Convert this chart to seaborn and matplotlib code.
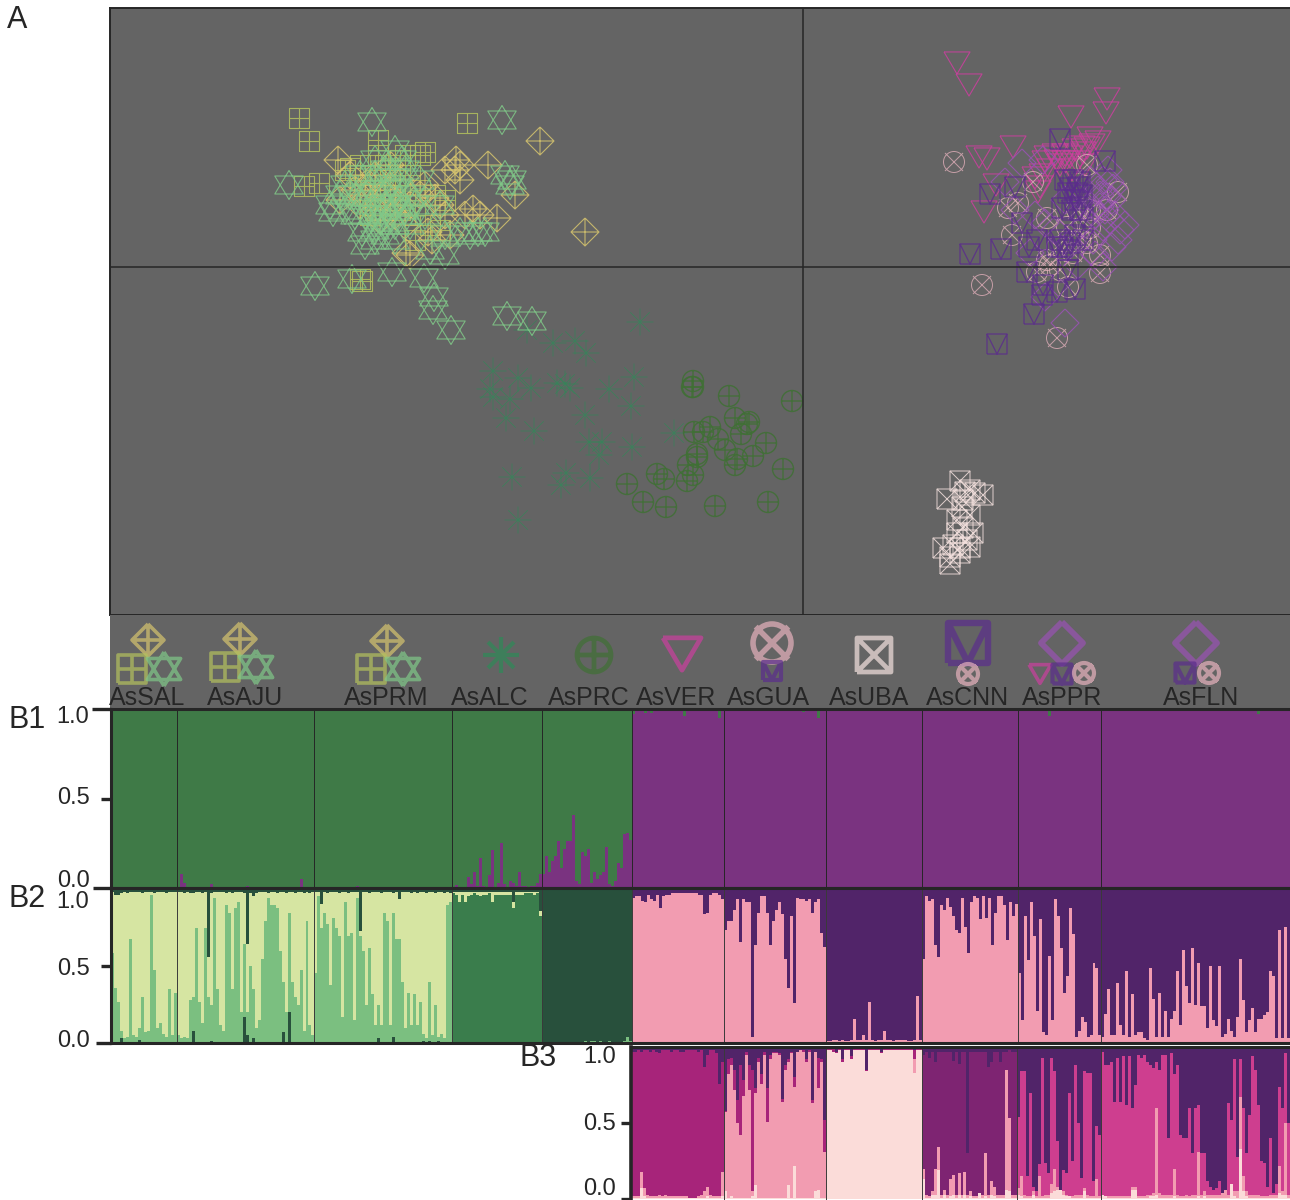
import numpy as np
import pandas as pd
import matplotlib
matplotlib.use("Agg")
import matplotlib.pyplot as plt
from matplotlib.path import Path
import seaborn as sns

# -- scatter data (component scores)
sq_plus_x = [299, 309, 467, 319, 304, 362, 360, 378, 378, 420, 425, 400, 385, 360, 350, 375, 390, 420, 400, 365, 380, 410, 435, 445, 370, 430, 415, 360, 395, 345, 405, 385, 375, 440, 390, 380, 395, 405, 385, 415, 370]
sq_plus_y = [118, 141, 123, 183, 186, 281, 279, 140, 155, 155, 152, 160, 165, 165, 168, 180, 195, 190, 210, 175, 200, 175, 195, 200, 215, 225, 240, 190, 175, 170, 155, 185, 210, 230, 170, 175, 195, 195, 210, 215, 195]
dia_plus_x = [540, 585, 338, 456, 488, 473, 497, 410, 406, 455, 445, 460, 355, 365, 340, 375, 390, 375, 420, 435, 440, 395, 360, 432, 450, 428, 515, 400, 385, 460, 465, 385, 395, 370, 350, 410, 425, 445, 405, 480, 380]
dia_plus_y = [141, 232, 160, 160, 165, 209, 218, 255, 253, 170, 170, 165, 190, 195, 200, 175, 165, 210, 195, 198, 205, 215, 205, 240, 235, 232, 195, 180, 195, 180, 215, 190, 200, 185, 175, 205, 185, 215, 225, 215, 220]
star_x = [372, 502, 289, 315, 352, 392, 424, 434, 433, 451, 507, 532, 505, 510, 512, 402, 375, 395, 333, 330, 365, 375, 395, 372, 360, 390, 380, 405, 445, 445, 460, 478, 485, 440, 360, 395, 410, 340, 385, 385, 345, 395, 420, 407, 370, 380, 430, 375, 385, 365, 400, 390, 370, 355, 410, 380, 395, 385, 362, 345, 415, 425, 375, 395, 405, 350, 470]
star_y = [122, 120, 185, 286, 279, 272, 278, 297, 310, 330, 316, 321, 175, 185, 180, 160, 160, 150, 212, 205, 245, 240, 225, 215, 200, 185, 190, 210, 235, 255, 232, 232, 232, 205, 175, 205, 195, 195, 225, 235, 185, 178, 180, 215, 190, 220, 250, 175, 205, 215, 200, 215, 205, 215, 225, 210, 190, 170, 232, 210, 205, 215, 230, 240, 170, 195, 235]
aster_x = [640, 553, 575, 586, 493, 518, 490, 493, 510, 531, 557, 565, 570, 609, 634, 631, 585, 506, 534, 674, 589, 602, 599, 632, 512, 566, 561, 590, 518, 527]
aster_y = [322, 343, 341, 353, 371, 378, 389, 397, 399, 388, 383, 384, 388, 389, 377, 406, 415, 418, 431, 433, 442, 442, 455, 447, 477, 473, 485, 478, 520, 330]
circ_plus_x = [693, 692, 693, 729, 792, 735, 749, 747, 741, 710, 703, 694, 718, 725, 766, 753, 697, 697, 688, 737, 735, 783, 657, 664, 693, 687, 627, 643, 666, 715, 768]
circ_plus_y = [381, 387, 387, 396, 401, 418, 422, 424, 434, 427, 432, 432, 439, 450, 443, 456, 454, 457, 465, 459, 465, 469, 474, 479, 475, 481, 484, 502, 507, 506, 502]
tri_x = [957, 969, 1107, 1106, 1071, 1090, 1098, 1082, 1087, 1013, 979, 987, 1045, 1065, 1077, 1057, 996, 1038, 984, 1040, 1047, 1070, 1083, 1050, 1060, 1075, 1092, 1035, 1042, 1055, 1072, 1065, 1085]
tri_y = [63, 85, 99, 113, 117, 138, 142, 147, 148, 147, 157, 159, 162, 162, 162, 161, 185, 192, 212, 187, 157, 157, 153, 170, 165, 150, 145, 178, 175, 155, 170, 155, 165]
circ_x_x = [954, 1118, 982, 1057, 1008, 1018, 1012, 1033, 1107, 1100, 1100, 1050, 1037, 1068, 1047, 1077, 1067, 1090, 1087, 1073, 1057, 1087, 1090, 1080, 1060, 1047]
circ_x_y = [162, 192, 285, 338, 208, 203, 235, 182, 210, 255, 273, 265, 272, 287, 218, 210, 227, 228, 165, 253, 247, 243, 210, 240, 270, 260]
sq_v_x = [1060, 1105, 990, 1015, 970, 1001, 1029, 1022, 1034, 997, 1027, 1042, 1057, 1075, 1068, 1073, 1078, 1070, 1080, 1062, 1068, 1083, 1057, 1070, 1083, 1062, 1043, 1037, 1077, 1065, 1075, 1072, 1060, 1075, 1068, 1082, 1080]
sq_v_y = [139, 161, 194, 187, 254, 249, 247, 223, 314, 344, 272, 295, 292, 289, 270, 180, 187, 188, 182, 208, 193, 217, 247, 243, 240, 247, 285, 240, 193, 180, 200, 210, 240, 235, 250, 195, 210]
dia_x = [1022, 1005, 1043, 1065, 1110, 1113, 1107, 1120, 1112, 1103, 1110, 1045, 1030, 1045, 1093, 1103, 1100, 1108, 1098, 1103, 1112, 1095, 1115, 1118, 1100, 1090, 1095, 1105, 1085, 1065, 1078, 1055, 1035, 1015, 1090, 1125]
dia_y = [163, 182, 160, 323, 182, 188, 197, 230, 247, 267, 220, 297, 253, 223, 240, 227, 207, 170, 190, 180, 200, 215, 215, 240, 195, 205, 255, 210, 225, 200, 265, 230, 215, 210, 180, 225]
sq_x_x = [960, 947, 965, 975, 983, 970, 963, 962, 970, 957, 963, 973, 957, 943, 953, 960, 967, 950, 960, 950, 970]
sq_x_y = [481, 499, 492, 493, 495, 490, 500, 507, 515, 520, 528, 533, 533, 548, 545, 548, 540, 564, 553, 557, 547]

# -- population labels
pop_names = ["AsSAL", "AsAJU", "AsPRM", "AsALC", "AsPRC", "AsVER", "AsGUA", "AsUBA", "AsCNN", "AsPPR", "AsFLN"]
pop_label_x = [147, 245, 386, 490, 589, 676, 769, 869, 968, 1062, 1201]

# -- B1, purple share in the green populations, green tips in the purple ones
b1_sal = [0, 0, 0, 0, 0, 0, 0, 0, 0, 0, 0, 0, 0, 0, 0, 0, 0, 0, 0, 0, 0, 0]
b1_aju = [0, 8, 3, 0, 0, 0, 0, 0, 0, 0, 0, 2, 0, 0, 0, 0, 0, 0, 0, 0, 0, 0, 0, 1, 0, 0, 0, 0, 0, 0, 0, 0, 0, 0, 0, 0, 0, 0, 0, 0, 0, 5, 0, 0, 0, 0]
b1_prm = [0, 0, 0, 0, 0, 0, 0, 0, 0, 0, 0, 0, 0, 0, 1, 0, 0, 0, 0, 0, 0, 0, 0, 0, 0, 0, 0, 0, 0, 0, 0, 0, 0, 0, 0, 0, 0, 0, 0, 0, 0, 0, 0, 0, 0, 0]
b1_alc = [0, 1.5, 0, 0, 0, 6, 2, 9, 1, 17, 1, 0, 7, 21, 0, 3, 25, 2, 0, 4, 3, 1, 9, 1, 1, 0, 1, 1, 3, 8]
b1_prc = [8, 18, 9, 15, 18, 26, 11, 22, 26, 26, 41, 4, 2, 20, 18, 22, 3, 9, 5, 7, 9, 23, 2, 1, 4, 14, 11, 30, 31, 27]
b1_tip_ver = [3, 0, 0, 0, 2, 0, 2, 0, 0, 0, 0, 0, 0, 0, 0, 0, 0, 4, 0, 0, 1, 0, 0, 0, 0, 0, 0, 0, 0, 5, 0]
b1_tip_gua = [0, 0, 0, 0, 0, 0, 0, 1, 0, 0, 0, 0, 0, 0, 0, 0, 0, 0, 0, 0, 0, 0, 0, 0, 0, 0, 1.5, 0, 0, 0, 0, 5, 0, 0]
b1_tip_uba = [0, 0, 0, 0, 0, 0, 0, 0, 0, 0, 0, 0, 0, 0, 0, 0, 0, 0, 0, 0, 0, 0, 0, 0, 0, 0, 0, 0, 0, 0, 0, 0]
b1_tip_cnn = [0, 0, 0, 0, 0, 0, 0, 0, 0, 0, 0, 0, 0, 0, 0, 0, 0, 0, 0, 0, 0, 0, 0, 0, 0, 0, 0, 0, 0, 0, 0, 0]
b1_tip_ppr = [0, 0, 0, 0, 0, 0, 0, 0, 0, 0, 4, 0, 0, 0, 0, 0, 0, 0, 0, 0, 0, 0, 0, 0, 0, 0, 0, 0]
b1_tip_fln = [0, 0, 0, 0, 0, 0, 0, 0, 0, 0, 0, 0, 0, 0, 0, 0, 0, 0, 0, 0, 0, 0, 0, 0, 0, 0, 0, 0, 0, 0, 0, 0, 0, 0, 0, 0, 0, 0, 0, 0, 0, 0, 0, 0, 1, 0, 0, 0, 1, 0, 0, 0, 3, 0, 0, 0, 0, 0, 0, 0, 0, 0, 0]

# -- B2, cumulative tops
b2_green_sal = [59, 36, 27, 8, 3, 4, 68, 5, 4, 10, 30, 7, 8, 97, 48, 10, 13, 6, 4, 35, 5, 33]
b2_green_aju = [5, 3, 4, 3, 28, 30, 75, 27, 13, 75, 30, 25, 95, 35, 12, 8, 90, 85, 35, 88, 92, 20, 65, 20, 50, 35, 10, 15, 55, 80, 95, 90, 90, 88, 60, 40, 20, 85, 40, 30, 25, 48, 8, 80, 12, 5]
b2_green_prm = [46, 96, 75, 85, 78, 38, 82, 75, 70, 17, 92, 70, 72, 15, 95, 70, 60, 25, 62, 32, 12, 25, 12, 85, 80, 12, 85, 68, 68, 40, 10, 33, 12, 32, 12, 27, 6, 3, 40, 5, 25, 4, 6, 3, 90, 92]
b2_yellow_sal = [99, 97, 97, 98, 99, 98, 99, 99, 99, 99, 98, 99, 99, 99, 98, 99, 99, 99, 98, 99, 99, 99]
b2_yellow_aju = [99, 99, 98, 99, 98, 98, 99, 99, 98, 99, 56, 98, 99, 99, 99, 99, 98, 99, 98, 99, 99, 99, 98, 65, 98, 96, 98, 99, 99, 99, 98, 99, 99, 98, 99, 99, 98, 99, 99, 98, 99, 99, 98, 99, 98, 99]
b2_yellow_prm = [99, 99, 91, 99, 98, 99, 99, 99, 98, 99, 99, 98, 99, 99, 99, 73, 99, 99, 98, 99, 99, 99, 98, 99, 99, 99, 98, 99, 94, 99, 99, 99, 98, 99, 98, 99, 99, 98, 99, 99, 98, 99, 99, 98, 99, 98]
b2_low_sal = [0, 0, 0, 3, 0, 0, 0, 0, 0, 2, 0, 0, 0, 0, 0, 0, 0, 0, 0, 0, 0, 0]
b2_low_aju = [0, 0, 0, 0, 0, 8, 0, 0, 0, 0, 0, 1, 0, 0, 0, 0, 0, 0, 0, 0, 0, 0, 17, 5, 0, 3, 0, 0, 0, 0, 0, 0, 0, 0, 0, 7, 0, 20, 0, 0, 0, 0, 0, 0, 0, 0]
b2_low_prm = [0, 0, 0, 0, 0, 0, 0, 0, 0, 0, 0, 0, 0, 0, 0, 0, 0, 0, 0, 0, 0, 3, 0, 0, 0, 0, 4, 0, 0, 0, 0, 0, 0, 0, 0, 0, 1, 0, 1, 0, 0, 1, 0, 0, 0, 0]
b2_mid_alc = [98, 97, 92, 97, 92, 96, 97, 98, 97, 96, 97, 97, 98, 92, 97, 97, 97, 97, 97, 97, 88, 97, 97, 97, 98, 98, 98, 97, 98, 83]
b2_yellow_alc = [99, 99, 99, 99, 99, 99, 99, 99, 99, 99, 99, 99, 99, 99, 99, 99, 99, 99, 99, 99, 92, 99, 99, 99, 99, 99, 99, 99, 99, 86]
b2_green_prc = [0, 0, 0, 0, 0, 0, 0, 0, 0, 0, 0, 0, 0, 0, 1, 0, 1, 1, 0, 1, 0, 0, 1, 0, 0, 0, 0, 1, 4, 1]
b2_pink_ver = [95, 96, 96, 93, 92, 97, 94, 93, 97, 88, 96, 97, 97, 98, 98, 98, 98, 98, 98, 98, 98, 98, 97, 97, 84, 85, 97, 98, 98, 97, 94]
b2_pink_gua = [74, 80, 80, 87, 94, 66, 94, 92, 92, 4, 64, 85, 96, 96, 85, 64, 80, 87, 92, 84, 55, 36, 83, 26, 95, 94, 94, 93, 94, 85, 92, 94, 72, 63]
b2_pink_uba = [1, 1, 2, 2, 1, 2, 1, 1, 2, 16, 2, 2, 5, 2, 27, 2, 1, 2, 2, 8, 2, 2, 1, 2, 2, 2, 2, 1, 1, 2, 31, 2]
b2_pink_cnn = [55, 96, 93, 94, 64, 56, 90, 87, 95, 89, 83, 74, 72, 95, 76, 59, 92, 96, 95, 81, 96, 82, 95, 64, 85, 96, 96, 90, 67, 92, 83, 91]
b2_pink_ppr = [46, 15, 83, 54, 92, 70, 21, 81, 7, 5, 57, 15, 94, 83, 62, 33, 44, 88, 71, 4, 8, 17, 14, 4, 5, 52, 49, 5]
b2_pink_fln = [4, 19, 35, 5, 5, 39, 12, 5, 47, 4, 32, 5, 7, 7, 3, 2, 49, 29, 4, 33, 4, 21, 4, 16, 21, 47, 12, 61, 37, 26, 62, 25, 52, 24, 24, 10, 50, 15, 11, 50, 4, 6, 16, 8, 4, 17, 55, 28, 7, 15, 23, 7, 16, 16, 18, 20, 47, 44, 3, 74, 3, 76, 3]

# -- B3, cumulative tops
b3_pale_ver = [1, 1, 1, 7, 2, 1, 1, 1, 1, 1, 1, 1, 1, 1, 1, 1, 1, 1, 1, 1, 1, 1, 1, 1, 1, 2, 1, 1, 1, 1, 2]
b3_pink_ver = [2, 2, 2, 18, 7, 3, 2, 2, 2, 3, 2, 3, 2, 2, 2, 2, 2, 2, 2, 1, 1, 1, 2, 3, 5, 8, 3, 2, 2, 2, 18]
b3_main_ver = [97, 97, 98, 97, 98, 98, 97, 98, 97, 96, 98, 98, 98, 97, 98, 98, 97, 97, 98, 98, 98, 98, 97, 98, 87, 95, 98, 98, 96, 76, 90]
b3_pale_gua = [5, 1, 2, 1, 1, 1, 1, 1, 1, 2, 9, 1, 1, 1, 1, 1, 1, 1, 1, 1, 1, 9, 1, 22, 1, 1, 1, 1, 1, 1, 5, 6, 1, 1]
b3_pink_gua = [57, 82, 88, 72, 50, 42, 68, 95, 72, 5, 70, 90, 76, 95, 51, 92, 96, 96, 95, 64, 85, 90, 96, 74, 97, 98, 97, 90, 97, 63, 97, 73, 90, 31]
b3_main_gua = [58, 92, 93, 85, 65, 88, 78, 97, 88, 85, 73, 93, 82, 97, 73, 95, 97, 97, 96, 66, 88, 92, 97, 80, 97, 98, 98, 92, 98, 65, 97, 93, 92, 52]
b3_pale_uba = [98, 98, 97, 96, 98, 90, 98, 98, 92, 98, 98, 98, 98, 84, 98, 98, 98, 98, 96, 98, 98, 98, 98, 98, 98, 98, 98, 98, 98, 83, 98, 98]
b3_pink_uba = [98, 98, 97, 96, 98, 90, 98, 98, 92, 98, 98, 98, 98, 84, 98, 98, 98, 98, 96, 98, 98, 98, 98, 98, 98, 98, 98, 98, 98, 92, 98, 98]
b3_main_uba = [99, 99, 99, 97, 99, 92, 99, 99, 94, 99, 99, 99, 99, 85, 99, 99, 99, 99, 97, 99, 99, 99, 99, 99, 99, 99, 99, 99, 99, 98, 99, 99]
b3_pale_cnn = [13, 1, 1, 3, 3, 19, 1, 3, 1, 2, 3, 1, 3, 1, 3, 1, 2, 1, 1, 4, 1, 2, 1, 3, 2, 1, 1, 1, 6, 5, 1, 1]
b3_pink_cnn = [20, 3, 2, 5, 20, 34, 3, 6, 3, 13, 16, 3, 17, 3, 18, 3, 5, 2, 2, 4, 3, 30, 3, 12, 8, 3, 3, 3, 85, 53, 3, 3]
b3_main_cnn = [95, 97, 93, 97, 90, 97, 97, 97, 97, 97, 91, 97, 89, 97, 97, 30, 97, 97, 97, 97, 97, 97, 87, 90, 97, 97, 90, 97, 97, 98, 97, 97]
b3_pale_ppr = [3, 2, 1, 1, 1, 3, 1, 1, 1, 1, 1, 4, 5, 6, 6, 3, 2, 2, 1, 1, 1, 1, 5, 1, 1, 1, 1, 1]
b3_pink_ppr = [7, 15, 3, 2, 2, 5, 2, 15, 2, 3, 3, 10, 20, 8, 6, 5, 3, 2, 2, 3, 3, 3, 7, 3, 2, 2, 13, 2]
b3_main_ppr = [54, 84, 84, 15, 70, 8, 5, 23, 93, 24, 17, 93, 84, 38, 6, 19, 17, 70, 25, 88, 50, 14, 84, 83, 83, 12, 48, 42]
b3_pale_fln = [3, 2, 1, 1, 1, 1, 1, 1, 1, 1, 6, 6, 1, 1, 1, 1, 2, 2, 3, 1, 1, 1, 1, 1, 2, 1, 1, 1, 1, 1, 1, 1, 2, 1, 2, 1, 1, 1, 1, 1, 1, 1, 1, 10, 2, 1, 33, 5, 2, 1, 1, 1, 1, 1, 1, 1, 1, 1, 1, 4, 3, 3, 1]
b3_pink_fln = [3, 2, 2, 2, 2, 2, 2, 2, 2, 2, 8, 8, 2, 2, 2, 3, 3, 4, 60, 4, 3, 3, 3, 3, 20, 3, 2, 2, 3, 2, 3, 3, 31, 3, 5, 3, 3, 3, 3, 3, 4, 6, 3, 10, 5, 5, 67, 15, 5, 3, 3, 3, 3, 2, 2, 2, 3, 3, 3, 22, 5, 50, 3]
b3_main_fln = [97, 88, 88, 90, 64, 93, 64, 94, 62, 94, 60, 75, 95, 93, 95, 90, 88, 86, 90, 85, 95, 95, 40, 96, 82, 88, 42, 40, 40, 60, 30, 60, 62, 30, 30, 12, 8, 6, 7, 12, 4, 4, 63, 52, 92, 28, 92, 60, 30, 55, 94, 85, 62, 25, 24, 8, 40, 4, 10, 74, 60, 96, 50]

# -- colours
PANEL = "#646464"
INK = "#262626"
C_DIA = "#d6c46e"
C_SQ = "#b4c25e"
C_STAR = "#80c888"
C_ASTER = "#2f8a58"
C_CIRC = "#3f7034"
C_TRI = "#cc3f9f"
C_CIRCX = "#e6b2bd"
C_SQX = "#f5e2df"
C_SQV = "#5b2d8c"
C_DIAP = "#9a52b4"

sns.set_theme(style="white")
plt.rcParams["font.family"] = ["Liberation Sans", "DejaVu Sans"]


def poly(*lines):
    # every line is drawn separately
    verts, codes = [], []
    for line in lines:
        verts += list(line)
        codes += [Path.MOVETO] + [Path.LINETO] * (len(line) - 1)
    return Path(verts, codes)


SQUARE = [(-1, -1), (1, -1), (1, 1), (-1, 1), (-1, -1)]
RHOMB = [(0, 1), (1, 0), (0, -1), (-1, 0), (0, 1)]
PLUS = [[(-1, 0), (1, 0)], [(0, -1), (0, 1)]]
CROSS = [[(-1, -1), (1, 1)], [(-1, 1), (1, -1)]]
SHORT_CROSS = [[(-.86, -.86), (.86, .86)], [(-.86, .86), (.86, -.86)]]

M_SQ_PLUS = poly(SQUARE, *PLUS)
M_DIA_PLUS = poly(RHOMB, *PLUS)
M_STAR = poly([(0, 1), (.98, -.62), (-.98, -.62), (0, 1)], [(0, -1), (.98, .62), (-.98, .62), (0, -1)])
M_ASTER = poly(*PLUS, [(-.72, -.72), (.72, .72)], [(-.72, .72), (.72, -.72)])
M_CIRC_PLUS = Path.make_compound_path(Path.unit_circle(), poly(*PLUS))
M_TRI = poly([(-1, .85), (1, .85), (0, -.85), (-1, .85)])
M_CIRC_X = Path.make_compound_path(Path.unit_circle(), poly(*SHORT_CROSS))
M_SQ_X = poly(SQUARE, *CROSS)
M_SQ_V = poly(SQUARE, [(-1, 1), (0, -1), (1, 1)])
M_DIA = poly(RHOMB)


def px_size(px):
    # marker span in pixels -> scatter size
    return (px * 0.72) ** 2


def draw_points(ax, x, y, marker, span, colour, lw=0.8, alpha=0.85):
    sns.scatterplot(x=x, y=y, marker=marker, s=px_size(span), facecolors="none",
                    edgecolor=colour, linewidth=lw, alpha=alpha, ax=ax, legend=False)


def panel_axes(left, top, right, bottom):
    return fig.add_axes([left / 1290, 1 - bottom / 1200, (right - left) / 1290, (bottom - top) / 1200])


def put_text(x, y, s, size=17, ha="center"):
    fig.text(x / 1290, 1 - y / 1200, s, fontsize=size, color=INK, ha=ha, va="center")


def draw_layer(ax, values, colours):
    df = pd.DataFrame({"sample": np.arange(len(values)), "value": values, "colour": colours})
    pal = {c: c for c in df["colour"].unique()}
    sns.barplot(data=df, x="sample", y="value", hue="colour", palette=pal, native_scale=True,
                width=1, dodge=False, saturation=1, linewidth=0, errorbar=None, legend=False, ax=ax)


def by_group(groups, colours):
    out = []
    for g, c in zip(groups, colours):
        out += [c] * len(g)
    return out


def finish_bars(ax, groups, ymax, ticks, end_ticks, line_col=INK):
    edges = np.cumsum([len(g) for g in groups])
    for e in edges[:-1]:
        ax.axvline(e - 0.5, color=line_col, lw=0.7)
    ax.set_xlim(-0.5, edges[-1] - 0.5)
    ax.set_ylim(0, ymax)
    ax.set(xlabel=None, ylabel=None, xticks=[], yticks=ticks, yticklabels=[])
    for side in ["top", "bottom", "left", "right"]:
        ax.spines[side].set_visible(side != "right")
        ax.spines[side].set_color(INK)
        ax.spines[side].set_linewidth(2.2)
    ax.tick_params(axis="y", left=True, length=7, width=2.4, color=INK)
    for tick, pos in zip(ax.yaxis.get_major_ticks(), ticks):
        if pos in end_ticks:
            tick.tick1line.set_markersize(end_ticks[pos])


fig = plt.figure(figsize=(12.9, 12.0), dpi=100)

# -- A: scatter panel
ax_a = panel_axes(110, 8, 1290, 615)
ax_a.set_facecolor(PANEL)
draw_points(ax_a, aster_x, aster_y, M_ASTER, 27, C_ASTER, lw=0.55, alpha=0.75)
draw_points(ax_a, circ_plus_x, circ_plus_y, M_CIRC_PLUS, 21, C_CIRC, lw=1.0)
draw_points(ax_a, sq_plus_x, sq_plus_y, M_SQ_PLUS, 20, C_SQ)
draw_points(ax_a, dia_plus_x, dia_plus_y, M_DIA_PLUS, 28, C_DIA)
draw_points(ax_a, star_x, star_y, M_STAR, 29, C_STAR)
draw_points(ax_a, tri_x, tri_y, M_TRI, 26, C_TRI)
draw_points(ax_a, circ_x_x, circ_x_y, M_CIRC_X, 21, C_CIRCX, lw=0.7, alpha=0.75)
draw_points(ax_a, dia_x, dia_y, M_DIA, 28, C_DIAP)
draw_points(ax_a, sq_v_x, sq_v_y, M_SQ_V, 20, C_SQV, lw=0.9)
draw_points(ax_a, sq_x_x, sq_x_y, M_SQ_X, 20, C_SQX, lw=0.7)
ax_a.axvline(803, color=INK, lw=1.1)
ax_a.axhline(267, color=INK, lw=1.1)
ax_a.set_xlim(110, 1290)
ax_a.set_ylim(615, 8)
ax_a.set(xlabel=None, ylabel=None, xticks=[], yticks=[])
for side in ["top", "bottom", "left"]:
    ax_a.spines[side].set_color(INK)
    ax_a.spines[side].set_linewidth(1.4)
ax_a.spines["right"].set_visible(False)

# -- legend strip
ax_k = panel_axes(110, 615, 1290, 709)
ax_k.set_facecolor(PANEL)
key_marks = [
    (148, 640, M_DIA_PLUS, 32, C_DIA, 2.6), (132, 669, M_SQ_PLUS, 28, C_SQ, 2.6), (164, 669, M_STAR, 34, C_STAR, 2.6),
    (240, 639, M_DIA_PLUS, 32, C_DIA, 2.6), (225, 667, M_SQ_PLUS, 28, C_SQ, 2.6), (256, 667, M_STAR, 34, C_STAR, 2.6),
    (387, 641, M_DIA_PLUS, 32, C_DIA, 2.6), (371, 669, M_SQ_PLUS, 28, C_SQ, 2.6), (403, 669, M_STAR, 34, C_STAR, 2.6),
    (501, 655, M_ASTER, 36, C_ASTER, 3.0), (594, 655, M_CIRC_PLUS, 34, C_CIRC, 3.4), (682, 654, M_TRI, 38, C_TRI, 3.4),
    (772, 643, M_CIRC_X, 38, C_CIRCX, 4.0), (772, 671, M_SQ_V, 18, C_SQV, 3.0), (874, 655, M_SQ_X, 34, C_SQX, 3.4),
    (968, 643, M_SQ_V, 40, C_SQV, 4.6), (968, 674, M_CIRC_X, 20, C_CIRCX, 3.0),
    (1062, 643, M_DIA, 42, C_DIAP, 4.2), (1040, 674, M_TRI, 22, C_TRI, 2.6), (1062, 674, M_SQ_V, 19, C_SQV, 3.0), (1084, 673, M_CIRC_X, 20, C_CIRCX, 3.0),
    (1196, 643, M_DIA, 42, C_DIAP, 4.2), (1185, 673, M_SQ_V, 19, C_SQV, 3.0), (1209, 673, M_CIRC_X, 20, C_CIRCX, 3.0),
]
for kx, ky, km, kspan, kcol, klw in key_marks:
    draw_points(ax_k, [kx], [ky], km, kspan, kcol, lw=klw, alpha=0.7)
ax_k.set_xlim(110, 1290)
ax_k.set_ylim(709, 615)
ax_k.set(xlabel=None, ylabel=None, xticks=[], yticks=[])
for side in ax_k.spines.values():
    side.set_visible(False)
for name, lx in zip(pop_names, pop_label_x):
    put_text(lx, 698, name, size=18)

# -- B1
groups_all = [b1_sal, b1_aju, b1_prm, b1_alc, b1_prc, b1_tip_ver, b1_tip_gua, b1_tip_uba, b1_tip_cnn, b1_tip_ppr, b1_tip_fln]
C_B1G, C_B1P = "#3f7a47", "#7a3380"
ax_b1 = panel_axes(111, 709, 1290, 888)
b1_colours = by_group(groups_all, [C_B1G] * 5 + [C_B1P] * 6)
draw_layer(ax_b1, [100] * len(b1_colours), b1_colours)
left_n = sum(len(g) for g in groups_all[:5])
b1_low = b1_sal + b1_aju + b1_prm + b1_alc + b1_prc
draw_layer(ax_b1, b1_low, [C_B1P] * left_n)
b1_tip = b1_tip_ver + b1_tip_gua + b1_tip_uba + b1_tip_cnn + b1_tip_ppr + b1_tip_fln
b1_tip_df = pd.DataFrame({"sample": np.arange(left_n, left_n + len(b1_tip)), "tip": b1_tip})
ax_b1.bar(b1_tip_df["sample"], b1_tip_df["tip"], bottom=100 - b1_tip_df["tip"], width=1, color=C_B1G, linewidth=0)
finish_bars(ax_b1, groups_all, 100, [0, 50, 100], {0: 13, 100: 14})

# -- B2
C_YEL, C_GRN, C_MID, C_DKG = "#d6e5a2", "#7bbf80", "#3a7d4c", "#28503c"
C_PNK, C_DKP = "#f29cb1", "#512469"
ax_b2 = panel_axes(111, 888, 1290, 1043)
b2_colours = by_group(groups_all, [C_DKG] * 5 + [C_DKP] * 6)
draw_layer(ax_b2, [100] * len(b2_colours), b2_colours)
b2_yellow = b2_yellow_sal + b2_yellow_aju + b2_yellow_prm + b2_yellow_alc
draw_layer(ax_b2, b2_yellow, [C_YEL] * len(b2_yellow))
b2_mid = [0] * (len(b2_yellow) - len(b2_mid_alc)) + b2_mid_alc
draw_layer(ax_b2, b2_mid, [C_MID] * len(b2_mid))
b2_green = b2_green_sal + b2_green_aju + b2_green_prm + [0] * len(b2_mid_alc) + b2_green_prc
draw_layer(ax_b2, b2_green, [C_GRN] * len(b2_green))
b2_low = b2_low_sal + b2_low_aju + b2_low_prm
draw_layer(ax_b2, b2_low, [C_DKG] * len(b2_low))
b2_pink = b2_pink_ver + b2_pink_gua + b2_pink_uba + b2_pink_cnn + b2_pink_ppr + b2_pink_fln
b2_pink_df = pd.DataFrame({"sample": np.arange(left_n, left_n + len(b2_pink)), "value": b2_pink})
sns.barplot(data=b2_pink_df, x="sample", y="value", color=C_PNK, native_scale=True, width=1,
            saturation=1, linewidth=0, errorbar=None, ax=ax_b2)
finish_bars(ax_b2, groups_all, 101.3, [0, 50], {0: 11}, line_col="#3a3a3a")

# -- B3
C_PALE, C_MAG, C_PUR, C_HOT = "#fbdcd9", "#a7247a", "#7e2472", "#ce3e8f"
ax_b3 = panel_axes(631, 1047, 1290, 1200)
groups_b3 = [b3_main_ver, b3_main_gua, b3_main_uba, b3_main_cnn, b3_main_ppr, b3_main_fln]
b3_main = sum(groups_b3, [])
b3_pink = b3_pink_ver + b3_pink_gua + b3_pink_uba + b3_pink_cnn + b3_pink_ppr + b3_pink_fln
b3_pale = b3_pale_ver + b3_pale_gua + b3_pale_uba + b3_pale_cnn + b3_pale_ppr + b3_pale_fln
draw_layer(ax_b3, [100] * len(b3_main), [C_DKP] * len(b3_main))
draw_layer(ax_b3, b3_main, by_group(groups_b3, [C_MAG, C_MAG, C_MAG, C_PUR, C_HOT, C_HOT]))
draw_layer(ax_b3, b3_pink, [C_PNK] * len(b3_pink))
draw_layer(ax_b3, b3_pale, [C_PALE] * len(b3_pale))
finish_bars(ax_b3, groups_b3, 100, [0, 50], {}, line_col="#3a3a3a")
ax_b3.set_ylim(-0.6, 100)
ax_b3.spines["bottom"].set_visible(False)
ax_b3.spines["left"].set_linewidth(2.6)

# -- tick labels and panel letters
for ly, lab in zip([717, 798, 881], ["1.0", "0.5", "0.0"]):
    put_text(73, ly, lab)
for ly, lab in zip([902, 969, 1041], ["1.0", "0.5", "0.0"]):
    put_text(73, ly, lab)
for ly, lab in zip([1057, 1124, 1189], ["1.0", "0.5", "0.0"]):
    put_text(600, ly, lab)
put_text(17, 20, "A", size=22)
put_text(27, 720, "B1", size=22)
put_text(27, 899, "B2", size=22)
put_text(538, 1058, "B3", size=22)

fig.savefig("out.png", dpi=100)
